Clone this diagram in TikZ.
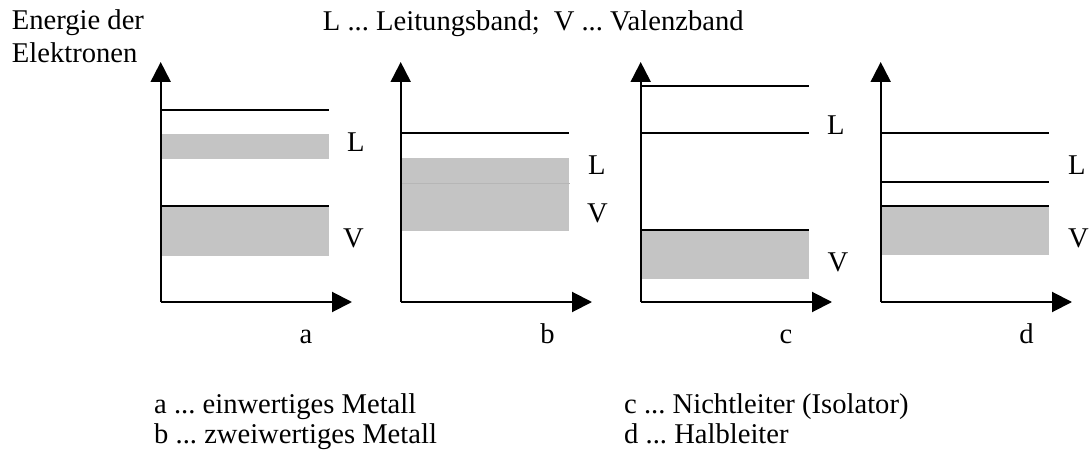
\documentclass[tikz,border=0pt]{standalone}
\usepackage{fontspec}
\setmainfont{Liberation Serif}
\usetikzlibrary{arrows.meta}
\definecolor{bandgray}{RGB}{196,196,196}
\definecolor{faintgray}{RGB}{182,182,182}
\newcommand{\txtfont}{\fontsize{28.6}{33}\selectfont\frenchspacing}
\tikzset{
  ax/.style={line width=2pt, -{Triangle[length=20pt,width=20pt]}},
  lvl/.style={line width=2pt},
  bandfill/.style={fill=bandgray},
  lbl/.style={anchor=base west, inner sep=0pt, font=\txtfont},
  clbl/.style={anchor=base, inner sep=0pt, font=\txtfont}
}
\begin{document}
\begin{tikzpicture}[x=1pt,y=-1pt]
\useasboundingbox (0,0) rectangle (1089,454);
% headers
\node[lbl] (t1) at (11.7,30) {Energie der};
\node[lbl] (t2) at (11.7,63) {Elektronen};
\node[lbl] (t3) at (322.7,31) {L ... Leitungsband;\hspace{14pt}V ... Valenzband};
% ---------- panel a ----------
\coordinate (oa) at (160.7,302);
\coordinate (ya) at (160.7,62);
\coordinate (xa) at (352,302);
\fill[bandfill] (161,134) rectangle (329,159);
\fill[bandfill] (161,205.7) rectangle (329,255.7);
\draw[lvl] (160.7,110) -- (329,110);
\draw[lvl] (160.7,205.7) -- (329,205.7);
\draw[ax] (oa) -- (ya);
\draw[ax] (oa) -- (xa);
\node[lbl] (La) at (347,151.7) {L};
\node[lbl] (Va) at (343,247.3) {V};
\node[clbl] (na) at (306,343) {a};
% ---------- panel b ----------
\coordinate (ob) at (400.7,302);
\coordinate (yb) at (400.7,62);
\coordinate (xb) at (592,302);
\fill[bandfill] (401,158) rectangle (569,231);
\draw[faintgray, line width=0.6pt] (401,183) -- (570,183);
\draw[lvl] (400.7,133) -- (569,133);
\draw[ax] (ob) -- (yb);
\draw[ax] (ob) -- (xb);
\node[lbl] (Lb) at (588,175) {L};
\node[lbl] (Vb) at (587,222.7) {V};
\node[clbl] (nb) at (547.5,343) {b};
% ---------- panel c ----------
\coordinate (oc) at (640.7,302);
\coordinate (yc) at (640.7,62);
\coordinate (xc) at (832,302);
\fill[bandfill] (641,230) rectangle (809,279);
\draw[lvl] (640.7,86) -- (809,86);
\draw[lvl] (640.7,133) -- (809,133);
\draw[lvl] (640.7,230) -- (809,230);
\draw[ax] (oc) -- (yc);
\draw[ax] (oc) -- (xc);
\node[lbl] (Lc) at (827,135) {L};
\node[lbl] (Vc) at (827.5,271.7) {V};
\node[clbl] (nc) at (786,343) {c};
% ---------- panel d ----------
\coordinate (od) at (880.7,302);
\coordinate (yd) at (880.7,62);
\coordinate (xd) at (1072,302);
\fill[bandfill] (881,206) rectangle (1049,255);
\draw[lvl] (880.7,133) -- (1049,133);
\draw[lvl] (880.7,182) -- (1049,182);
\draw[lvl] (880.7,206) -- (1049,206);
\draw[ax] (od) -- (yd);
\draw[ax] (od) -- (xd);
\node[lbl] (Ld) at (1068,175) {L};
\node[lbl] (Vd) at (1068,247.3) {V};
\node[clbl] (nd) at (1026.5,343) {d};
% ---------- legend ----------
\node[lbl] (ka) at (154,413) {a ... einwertiges Metall};
\node[lbl] (kb) at (154,443) {b ... zweiwertiges Metall};
\node[lbl] (kc) at (624,413) {c ... Nichtleiter (Isolator)};
\node[lbl] (kd) at (624,443) {d ... Halbleiter};
\end{tikzpicture}
\end{document}
